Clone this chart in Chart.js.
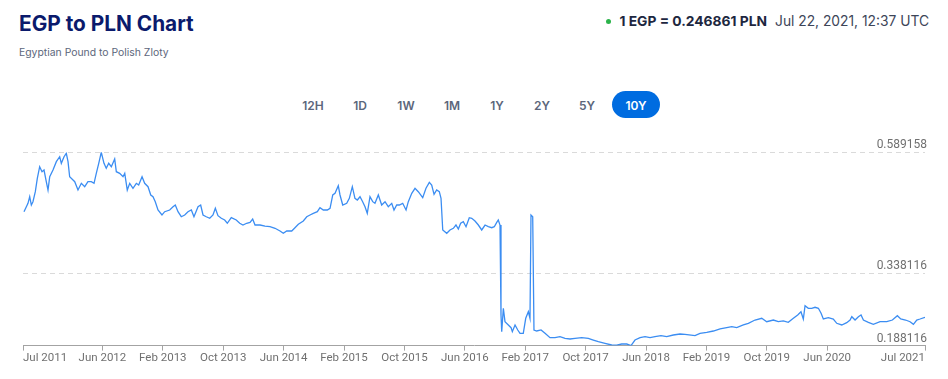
<!DOCTYPE html>
<html>
<head>
<meta charset="utf-8">
<script src="https://cdn.jsdelivr.net/npm/chart.js@4.4.1/dist/chart.umd.min.js"></script>
<style>
  html, body { margin: 0; padding: 0; background: #fff; }
  body { width: 948px; height: 379px; position: relative; overflow: hidden; font-family: Inter, "Noto Sans", sans-serif; }
  .title { position: absolute; left: 19px; top: 12.5px; font-size: 20.8px; line-height: 22px; font-weight: 700; color: #0b1a6c; white-space: nowrap; }
  .sub { position: absolute; left: 19px; top: 47px; font-size: 10.4px; line-height: 11px; color: #5c667b; white-space: nowrap; }
  .rate { position: absolute; right: 19px; top: 14.5px; font-size: 13.8px; line-height: 13px; display: flex; align-items: center; white-space: nowrap; }
  .dot { width: 5px; height: 5px; border-radius: 50%; background: #2bb34a; margin-right: 9px; }
  .rate b { color: #1d2740; font-weight: 700; }
  .rate span { color: #3d4558; margin-left: 8px; }
  .btn { position: absolute; top: 92px; width: 48px; height: 27px; line-height: 27px; text-align: center; font-size: 12px; font-weight: 600; color: #5c667b; }
  .pill { position: absolute; left: 612px; top: 91px; width: 48px; height: 27px; border-radius: 14px; background: #006ce0; }
  .btn.on { color: #fff; }
  #wrap { position: absolute; left: 0; top: 130px; width: 948px; height: 249px; }
</style>
</head>
<body>
<div class="title">EGP to PLN Chart</div>
<div class="sub">Egyptian Pound to Polish Zloty</div>
<div class="rate"><div class="dot"></div><b>1 EGP = 0.246861 PLN</b><span>Jul 22, 2021, 12:37 UTC</span></div>
<div class="pill"></div>
<div id="btns"></div>
<div id="wrap"><canvas id="c" width="948" height="249"></canvas></div>
<script>
// ---- data ----
const rangeButtons = ['12H','1D','1W','1M','1Y','2Y','5Y','10Y'];
const rangeCenters = [313, 360, 406, 452, 497, 542, 587, 636];
const activeRange = '10Y';

const xMin = 2011.54;   // start of 10Y window
const xMax = 2021.496;  // end of window
const xTickLabels = ['Jul 2011','Jun 2012','Feb 2013','Oct 2013','Jun 2014','Feb 2015','Oct 2015','Jun 2016','Feb 2017','Oct 2017','Jun 2018','Feb 2019','Oct 2019','Jun 2020','Jul 2021'];
const yTickValues = [0.188116, 0.338116, 0.589158];

const years = [
2011.551,2011.595,2011.614,2011.632,2011.650,2011.676,2011.698,2011.724,2011.750,2011.772,
2011.797,2011.816,2011.835,2011.871,2011.908,2011.945,2011.963,2011.993,2012.018,2012.037,
2012.055,2012.092,2012.111,2012.147,2012.184,2012.221,2012.257,2012.294,2012.324,2012.349,
2012.376,2012.404,2012.434,2012.459,2012.486,2012.515,2012.552,2012.570,2012.607,2012.644,
2012.663,2012.691,2012.718,2012.754,2012.791,2012.817,2012.854,2012.883,2012.920,2012.950,
2012.975,2013.000,2013.030,2013.074,2013.104,2013.159,2013.196,2013.221,2013.251,2013.287,
2013.325,2013.361,2013.398,2013.427,2013.472,2013.501,2013.527,2013.563,2013.601,2013.637,
2013.663,2013.692,2013.729,2013.766,2013.795,2013.839,2013.894,2013.932,2013.968,2014.009,
2014.046,2014.075,2014.101,2014.156,2014.211,2014.266,2014.322,2014.377,2014.413,2014.451,
2014.506,2014.542,2014.579,2014.634,2014.672,2014.708,2014.744,2014.789,2014.818,2014.855,
2014.899,2014.929,2014.959,2014.984,2015.020,2015.039,2015.069,2015.113,2015.142,2015.175,
2015.204,2015.230,2015.260,2015.289,2015.315,2015.340,2015.370,2015.400,2015.425,2015.462,
2015.499,2015.536,2015.572,2015.610,2015.635,2015.665,2015.694,2015.731,2015.768,2015.793,
2015.831,2015.867,2015.903,2015.952,2015.988,2016.025,2016.051,2016.077,2016.106,2016.135,
2016.154,2016.173,2016.217,2016.253,2016.290,2016.319,2016.345,2016.371,2016.400,2016.430,
2016.466,2016.493,2016.529,2016.566,2016.603,2016.640,2016.676,2016.714,2016.742,2016.769,
2016.786,2016.805,2016.816,2016.824,2016.842,2016.860,2016.897,2016.927,2016.941,2016.971,
2017.001,2017.026,2017.062,2017.089,2017.118,2017.136,2017.147,2017.166,2017.180,2017.210,
2017.258,2017.302,2017.357,2017.412,2017.467,2017.523,2017.578,2017.633,2017.707,2017.780,
2017.835,2017.890,2017.964,2018.038,2018.093,2018.148,2018.204,2018.251,2018.295,2018.351,
2018.406,2018.461,2018.516,2018.582,2018.645,2018.718,2018.792,2018.847,2018.957,2019.013,
2019.087,2019.160,2019.234,2019.307,2019.363,2019.418,2019.491,2019.546,2019.620,2019.694,
2019.749,2019.822,2019.877,2019.932,2019.987,2020.043,2020.091,2020.127,2020.153,2020.172,
2020.208,2020.246,2020.282,2020.319,2020.349,2020.374,2020.429,2020.484,2020.522,2020.577,
2020.632,2020.669,2020.688,2020.724,2020.761,2020.790,2020.816,2020.871,2020.926,2021.000,
2021.074,2021.136,2021.191,2021.228,2021.281,2021.331,2021.368,2021.405,2021.441,2021.496
];
const rates = [
0.4659,0.4833,0.4970,0.4798,0.4867,0.5074,0.5352,0.5593,0.5489,0.5524,
0.5282,0.5109,0.5385,0.5524,0.5697,0.5800,0.5663,0.5800,0.5871,0.5697,
0.5385,0.5317,0.5282,0.5109,0.5248,0.5178,0.5282,0.5282,0.5248,0.5456,
0.5663,0.589158,0.5663,0.5560,0.5663,0.5593,0.5753,0.5489,0.5456,0.5385,
0.5456,0.5109,0.5248,0.5145,0.5248,0.5213,0.5385,0.5248,0.5178,0.5006,
0.4970,0.4867,0.4694,0.4591,0.4659,0.4694,0.4763,0.4798,0.4659,0.4555,
0.4591,0.4659,0.4694,0.4555,0.4763,0.4798,0.4591,0.4555,0.4522,0.4591,
0.4730,0.4576,0.4522,0.4487,0.4419,0.4535,0.4487,0.4419,0.4383,0.4419,
0.4439,0.4508,0.4383,0.4383,0.4362,0.4348,0.4315,0.4259,0.4211,0.4259,
0.4259,0.4327,0.4398,0.4466,0.4555,0.4591,0.4626,0.4659,0.4742,0.4694,
0.4694,0.4730,0.5006,0.5041,0.5199,0.5006,0.4798,0.4833,0.4937,0.5178,
0.4937,0.4902,0.4970,0.4867,0.4763,0.4626,0.4970,0.4867,0.4833,0.5006,
0.4798,0.4867,0.4763,0.4833,0.4694,0.4798,0.4798,0.4833,0.4694,0.4867,
0.5041,0.5145,0.5074,0.4950,0.5145,0.5269,0.5213,0.5020,0.5109,0.5074,
0.4937,0.4280,0.4211,0.4280,0.4315,0.4383,0.4300,0.4419,0.4452,0.4348,
0.4535,0.4522,0.4466,0.4383,0.4280,0.4383,0.4348,0.4327,0.4348,0.4439,
0.4487,0.4383,0.2516,0.2170,0.2655,0.2377,0.2309,0.2253,0.2170,0.2309,
0.2205,0.2136,0.2136,0.2448,0.2584,0.2448,0.4591,0.4555,0.2205,0.2184,
0.2205,0.2136,0.2045,0.2045,0.2066,0.2033,0.2018,0.2033,0.2045,0.2033,
0.1997,0.1962,0.1929,0.1894,0.1890,0.1914,0.1914,0.188116,0.1997,0.2045,
0.2066,0.2045,0.2066,0.2087,0.2066,0.2101,0.2122,0.2116,0.2087,0.2136,
0.2157,0.2184,0.2226,0.2253,0.2273,0.2253,0.2309,0.2344,0.2412,0.2448,
0.2377,0.2412,0.2377,0.2392,0.2365,0.2448,0.2516,0.2584,0.2433,0.2709,
0.2655,0.2655,0.2676,0.2655,0.2551,0.2433,0.2460,0.2433,0.2344,0.2309,
0.2356,0.2412,0.2481,0.2412,0.2481,0.2516,0.2412,0.2365,0.2323,0.2377,
0.2377,0.2412,0.2501,0.2433,0.2412,0.2377,0.2323,0.2412,0.2433,0.246861
];

// ---- range buttons ----
const btns = document.getElementById('btns');
rangeButtons.forEach((t, i) => {
  const d = document.createElement('div');
  d.className = 'btn' + (t === activeRange ? ' on' : '');
  d.style.left = (rangeCenters[i] - 24) + 'px';
  d.textContent = t;
  btns.appendChild(d);
});

// ---- chart ----
const monthIdx = {Jan:0,Feb:1,Mar:2,Apr:3,May:4,Jun:5,Jul:6,Aug:7,Sep:8,Oct:9,Nov:10,Dec:11};
const xTickValues = xTickLabels.map((l, i) => {
  if (i === 0) return xMin;
  if (i === xTickLabels.length - 1) return xMax;
  const [m, y] = l.split(' ');
  return +y + monthIdx[m] / 12;
});
const yMin = Math.min(...rates), yMax = Math.max(...rates);
const n = Math.min(years.length, rates.length);
const points = [];
for (let i = 0; i < n; i++) points.push({x: years[i], y: rates[i]});

new Chart(document.getElementById('c'), {
  type: 'line',
  data: { datasets: [{ data: points, borderColor: '#3b8df2', borderWidth: 1.3, pointRadius: 0, fill: false, tension: 0 }] },
  options: {
    responsive: false, animation: false,
    layout: { padding: { top: 22.3, left: 23, right: 23, bottom: 13.4 } },
    plugins: { legend: { display: false }, tooltip: { enabled: false } },
    scales: {
      x: {
        type: 'linear', min: xMin, max: xMax,
        afterBuildTicks: s => { s.ticks = xTickValues.map(v => ({ value: v })); },
        afterFit: s => { s.height = 20; },
        grid: { drawOnChartArea: false, drawTicks: true, tickLength: 5, tickColor: '#a3a3a3' },
        border: { display: true, color: '#a3a3a3', width: 1 },
        ticks: { align: 'inner', autoSkip: false, maxRotation: 0, padding: 1, color: '#707070',
                 font: { family: 'Roboto', size: 11.5 }, callback: (v, i) => xTickLabels[i] }
      },
      y: {
        position: 'right', min: yMin, max: yMax,
        afterBuildTicks: s => { s.ticks = yTickValues.map(v => ({ value: v })); },
        afterFit: s => { s.width = 0; },
        grid: { drawTicks: false, lineWidth: 1,
                color: c => (c.tick && c.tick.value === yTickValues[0]) ? 'rgba(0,0,0,0)' : '#dadada' },
        border: { display: false, dash: [5, 4] },
        ticks: { mirror: true, padding: 2, labelOffset: -7, color: '#707070',
                 font: { family: 'Roboto', size: 12 }, callback: v => v.toFixed(6) }
      }
    }
  }
});
</script>
</body>
</html>
